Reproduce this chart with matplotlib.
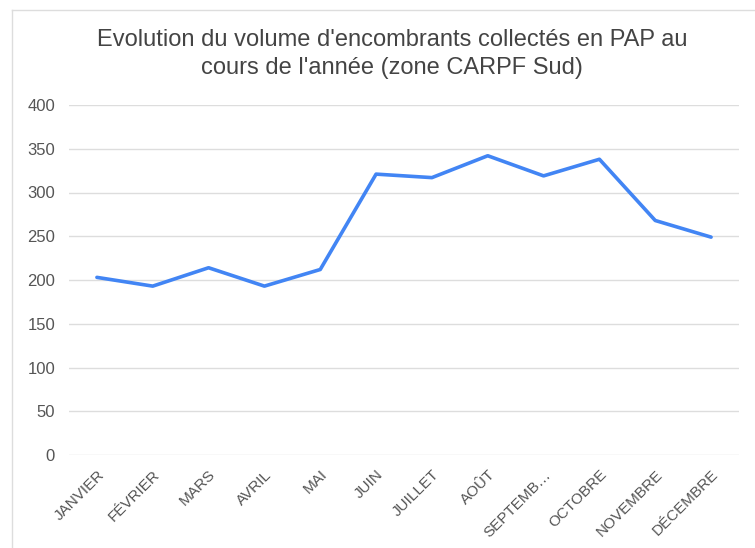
import matplotlib

matplotlib.use("Agg")
import matplotlib.pyplot as plt
from matplotlib.lines import Line2D

months = ["JANVIER", "FÉVRIER", "MARS", "AVRIL", "MAI", "JUIN", "JUILLET",
          "AOÛT", "SEPTEMB…", "OCTOBRE", "NOVEMBRE", "DÉCEMBRE"]
volumes = [203, 193, 214, 193, 212, 321, 317, 342, 319, 338, 268, 249]
y_ticks = [0, 50, 100, 150, 200, 250, 300, 350, 400]

W, H = 755, 548
plt.rcParams["font.family"] = ["Liberation Sans", "DejaVu Sans"]

fig = plt.figure(figsize=(W / 100, H / 100), dpi=100)
ax = fig.add_axes([69 / W, 1 - 455 / H, (739 - 69) / W, (455 - 105) / H])

x = list(range(len(months)))
ax.plot(x, volumes, color="#4285F4", lw=2.6, solid_joinstyle="round",
        solid_capstyle="round", zorder=3)

ax.set_xlim(-0.5, len(months) - 0.5)
ax.set_ylim(0, 400)
ax.set_yticks(y_ticks)
ax.set_yticklabels([str(v) for v in y_ticks])
ax.set_xticks(x)
ax.set_xticklabels(months, rotation=45, ha="right", rotation_mode="anchor")
ax.tick_params(axis="both", length=0, colors="#555555")
ax.tick_params(axis="y", pad=10, labelsize=12)
ax.tick_params(axis="x", pad=9, labelsize=11)
ax.grid(axis="y", color="#dddddd", lw=1)
ax.set_axisbelow(True)
for s in ax.spines.values():
    s.set_visible(False)

fig.text(392 / W, 1 - 54 / H,
         "Evolution du volume d'encombrants collectés en PAP au\ncours de l'année (zone CARPF Sud)",
         ha="center", va="center", fontsize=17, color="#444444", linespacing=1.32)

# light frame of the screenshot
fig.add_artist(Line2D([12 / W, 12 / W], [0, 1 - 10 / H], transform=fig.transFigure,
                      color="#dddddd", lw=1))
fig.add_artist(Line2D([12 / W, 1], [1 - 10 / H, 1 - 10 / H], transform=fig.transFigure,
                      color="#dddddd", lw=1))

fig.savefig("out.png", dpi=100, facecolor="white")
